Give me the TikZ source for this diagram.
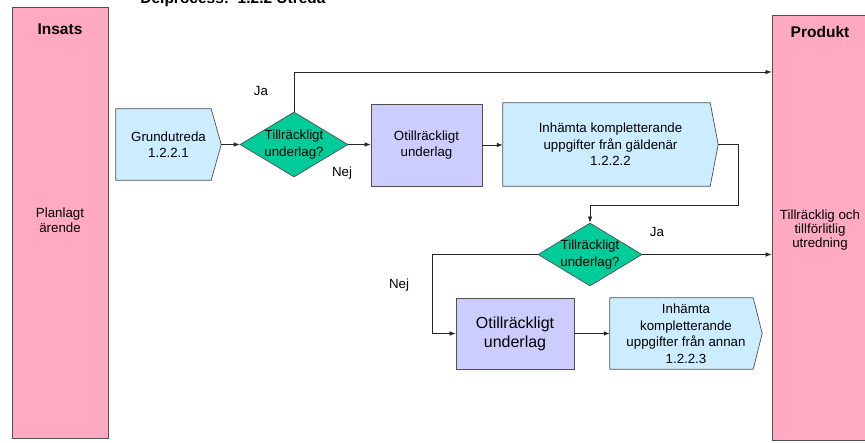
\documentclass[tikz,border=0pt]{standalone}
\usepackage{fontspec}
\setmainfont{Liberation Sans}
\usetikzlibrary{shapes.geometric,arrows.meta,backgrounds,calc}
\definecolor{lane}{HTML}{FFAAC0}
\definecolor{stepblue}{HTML}{CCECFF}
\definecolor{decgreen}{HTML}{00CC99}
\definecolor{lilac}{HTML}{CCCCFF}
\definecolor{edge}{HTML}{505050}

\begin{document}
\begin{tikzpicture}[x=1pt,y=-1pt,
  txt/.style={font=\fontsize{13.3}{16.5}\selectfont, align=center},
  big/.style={font=\fontsize{16}{19}\selectfont, align=center},
  head/.style={font=\bfseries\fontsize{15.5}{18}\selectfont},
  lanebox/.style={draw=edge, fill=lane, line width=0.8pt, inner sep=0},
  body/.style={txt, minimum width=#1, inner sep=0},
  chevfill/.style={draw=edge, fill=stepblue, line width=0.7pt},
  decision/.style={diamond, draw=edge, fill=decgreen, line width=0.7pt, inner sep=0},
  task/.style={draw=edge, fill=lilac, line width=0.7pt, inner sep=0},
  conn/.style={draw=black!85, line width=0.7pt, -{Latex[length=6pt,width=4.5pt]}}]

\useasboundingbox (0,0) rectangle (865,443);

% page heading (partly above the page edge)
\node[head, anchor=base] (title) at (233,4) {Delprocess:\ \ 1.2.2 Utreda};

% swim lanes
\node[lanebox, minimum width=96, minimum height=431] (insats) at (60,222.5) {};
\node[lanebox, minimum width=100, minimum height=425] (produkt) at (822,227.5) {};
\node[head] (insatsT) at (60,29) {Insats};
\node[head] (produktT) at (820,32) {Produkt};
\node[txt, font=\fontsize{13.3}{15}\selectfont] (insatsB) at (60,220) {Planlagt\\ärende};
\node[txt, font=\fontsize{13.3}{14}\selectfont] (produktB) at (820,230) {Tillräcklig och\\tillförlitlig\\utredning};

% process steps (chevron outlines drawn behind the text nodes)
\node[body=105, minimum height=71] (grund) at (168.5,144.5) {Grundutreda\\1.2.2.1};
\node[body=215, minimum height=83] (gald) at (610.5,144.5) {Inhämta kompletterande\\uppgifter från gäldenär\\1.2.2.2};
\node[body=152, minimum height=71] (annan) at (686,333.5) {Inhämta\\kompletterande\\uppgifter från annan\\1.2.2.3};

\begin{scope}[on background layer]
  \foreach \n/\d in {grund/10, gald/8, annan/9}{
    \path[chevfill] (\n.north west) -- ($(\n.north east)+(-\d,0)$) -- (\n.east)
      -- ($(\n.south east)+(-\d,0)$) -- (\n.south west) -- cycle;
  }
\end{scope}

% decisions
\node[decision, minimum width=108, minimum height=65,
  label={[txt]center:{Tillräckligt\\underlag?}}] (d1) at (294,144.5) {};
\node[decision, minimum width=104, minimum height=63,
  label={[txt]center:{Tillräckligt\\underlag?}}] (d2) at (590,254.5) {};

% insufficient-basis boxes
\node[task, txt, minimum width=111, minimum height=82] (b1) at (426.5,145) {Otillräckligt\\underlag};
\node[task, big, minimum width=118, minimum height=71] (b2) at (515,333.5) {Otillräckligt\\underlag};

% routing points
\coordinate (topY) at (0,72);
\coordinate (bend) at (738,205);
\coordinate (nejX) at (432,0);

% connectors
\draw[conn] (grund.east) -- (d1.west);
\draw[conn] (d1.north) |- (produkt.west |- topY);
\draw[conn] (d1.east) -- (d1.east -| b1.west);
\draw[conn] (b1.east) -- (b1.east -| gald.west);
\draw[conn] (gald.east) -| (bend) -| (d2.north);
\draw[conn] (d2.east) -- (d2.east -| produkt.west);
\draw[conn] (d2.west) -| (nejX |- b2.west) -- (b2.west);
\draw[conn] (b2.east) -- (annan.west);

% branch labels
\node[txt] (ja1) at (261,91) {Ja};
\node[txt] (nej1) at (342,173) {Nej};
\node[txt] (ja2) at (657,232) {Ja};
\node[txt] (nej2) at (399,285) {Nej};
\end{tikzpicture}
\end{document}
